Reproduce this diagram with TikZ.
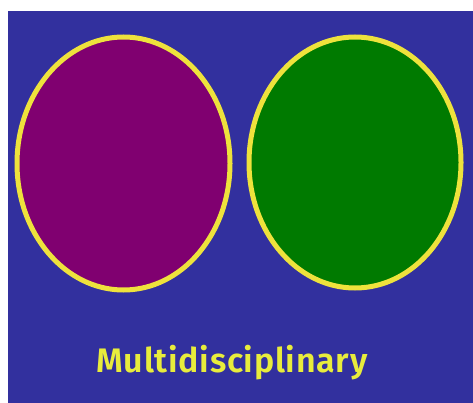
\documentclass[tikz,border=0pt]{standalone}
\usepackage{fontspec}
\newfontfamily\labelfont{Fira Sans}[BoldFont={* SemiBold}, LetterSpace=2]
\definecolor{bgblue}{RGB}{50,48,158}
\definecolor{ringyellow}{RGB}{238,226,60}
\definecolor{leftpurple}{RGB}{128,0,112}
\definecolor{rightgreen}{RGB}{0,122,0}
\definecolor{textyellow}{RGB}{232,236,60}
\tikzset{
  setcircle/.style={ellipse, draw=ringyellow, line width=5pt, inner sep=0pt},
}
\usetikzlibrary{shapes.geometric}
\begin{document}
\begin{tikzpicture}[x=1pt,y=-1pt]
\useasboundingbox (0,0) rectangle (473,403);
\fill[white] (0,0) rectangle (473,403);
\fill[bgblue] (8,11) rectangle (473,403);
\node[setcircle, fill=leftpurple, minimum width=213pt, minimum height=253pt] (left) at (123.5,163.5) {};
\node[setcircle, fill=rightgreen, minimum width=212pt, minimum height=251pt] (right) at (355,162.5) {};
\node[text=textyellow, font=\labelfont\bfseries\fontsize{34}{38}\selectfont, inner sep=0pt, anchor=base] (label) at (232,372) {Multidisciplinary};
\end{tikzpicture}
\end{document}
